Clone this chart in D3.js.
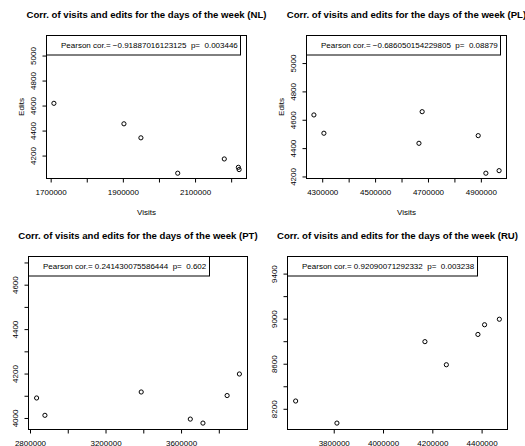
<!DOCTYPE html>
<html>
<head>
<meta charset="utf-8">
<script src="https://cdn.jsdelivr.net/npm/d3@7"></script>
<style>
  body { margin: 0; background: #fff; }
  svg { display: block; }
  text { font-family: "Liberation Sans", Arial, Helvetica, sans-serif; fill: #000; white-space: pre; }
</style>
</head>
<body>
<svg id="chart" width="525" height="446"></svg>
<script>
// Data (visits vs edits per weekday)
const countries = ["NL", "PL", "PT", "RU"];

const visitsNL = [1709000, 1903000, 1950000, 2052000, 2181000, 2220000, 2222000];
const editsNL  = [4618, 4454, 4342, 4059, 4173, 4106, 4088];
const visitsPL = [4268600, 4306400, 4665900, 4678000, 4890000, 4919000, 4969000];
const editsPL  = [4634, 4505, 4434, 4657, 4488, 4223, 4241];
const visitsPT = [2835000, 2879000, 3389000, 3649000, 3716000, 3844000, 3909000];
const editsPT  = [4090, 4012, 4117, 3995, 3977, 4101, 4198];
const visitsRU = [3645500, 3813000, 4170000, 4257000, 4385000, 4412000, 4472000];
const editsRU  = [8269, 8073, 8796, 8591, 8860, 8946, 8995];

const corrText = [
  "Pearson cor.= \u22120.91887016123125  p=  0.003446",
  "Pearson cor.= \u22120.686050154229805  p=  0.08879",
  "Pearson cor.= 0.241430075586444  p=  0.602",
  "Pearson cor.= 0.92090071292332  p=  0.003238"
];

// axis ticks and the labels R kept (empty = tick without label)
const xTicksNL = [1700000, 1800000, 1900000, 2000000, 2100000, 2200000];
const xLabelsNL = ["1700000", "", "1900000", "", "2100000", ""];
const yTicksNL = [4200, 4400, 4600, 4800, 5000];
const yLabelsNL = ["4200", "4400", "4600", "4800", "5000"];

const xTicksPL = [4300000, 4400000, 4500000, 4600000, 4700000, 4800000, 4900000];
const xLabelsPL = ["4300000", "", "4500000", "", "4700000", "", "4900000"];
const yTicksPL = [4200, 4400, 4600, 4800, 5000];
const yLabelsPL = ["4200", "4400", "4600", "4800", "5000"];

const xTicksPT = [2800000, 3000000, 3200000, 3400000, 3600000, 3800000];
const xLabelsPT = ["2800000", "", "3200000", "", "3600000", ""];
const yTicksPT = [4000, 4100, 4200, 4300, 4400, 4500, 4600, 4700];
const yLabelsPT = ["4000", "", "4200", "", "4400", "", "4600", ""];

const xTicksRU = [3800000, 4000000, 4200000, 4400000];
const xLabelsRU = ["3800000", "4000000", "4200000", "4400000"];
const yTicksRU = [8200, 8400, 8600, 8800, 9000, 9200, 9400];
const yLabelsRU = ["8200", "", "8600", "", "9000", "", "9400"];

const panels = [
  { name: "NL", visits: visitsNL, edits: editsNL, xt: xTicksNL, xl: xLabelsNL, yt: yTicksNL, yl: yLabelsNL,
    box: { l: 46.5, r: 246.5, t: 35.5, b: 178.5 }, axisTitles: true },
  { name: "PL", visits: visitsPL, edits: editsPL, xt: xTicksPL, xl: xLabelsPL, yt: yTicksPL, yl: yLabelsPL,
    box: { l: 306.5, r: 506.5, t: 35.5, b: 178.5 }, axisTitles: true },
  { name: "PT", visits: visitsPT, edits: editsPT, xt: xTicksPT, xl: xLabelsPT, yt: yTicksPT, yl: yLabelsPT,
    box: { l: 28.5, r: 247.5, t: 256.5, b: 429.5 }, axisTitles: false },
  { name: "RU", visits: visitsRU, edits: editsRU, xt: xTicksRU, xl: xLabelsRU, yt: yTicksRU, yl: yLabelsRU,
    box: { l: 287.5, r: 507.5, t: 256.5, b: 429.5 }, axisTitles: false }
];

const svg = d3.select("#chart");

panels.forEach((p, k) => {
  const b = p.box;

  // R style: xlim = range, ylim = c(min, max + 500), both padded by 4%
  const [x0, x1] = d3.extent(p.visits);
  const y0 = d3.min(p.edits), y1 = d3.max(p.edits) + 500;
  const xPad = (x1 - x0) * 0.04, yPad = (y1 - y0) * 0.04;

  const x = d3.scaleLinear().domain([x0 - xPad, x1 + xPad]).range([b.l, b.r]);
  const y = d3.scaleLinear().domain([y0 - yPad, y1 + yPad]).range([b.b, b.t]);

  const g = svg.append("g");

  // title
  g.append("text")
    .attr("x", (b.l + b.r) / 2)
    .attr("y", b.t - 17.5)
    .attr("text-anchor", "middle")
    .style("font-size", "9.6px")
    .style("font-weight", "bold")
    .text(`Corr. of visits and edits for the days of the week (${p.name})`);

  // x axis
  const xAxis = g.append("g")
    .attr("transform", `translate(0,${b.b})`)
    .call(d3.axisBottom(x).tickValues(p.xt).tickSize(4).tickPadding(7)
      .tickFormat((d, i) => p.xl[i]));
  xAxis.select(".domain").remove();
  xAxis.selectAll("line").attr("stroke", "#000");
  xAxis.selectAll("text").style("font-size", "8px").attr("font-family", null);

  // y axis, labels parallel to the axis
  const yAxis = g.append("g")
    .attr("transform", `translate(${b.l},0)`)
    .call(d3.axisLeft(y).tickValues(p.yt).tickSize(4)
      .tickFormat((d, i) => p.yl[i]));
  yAxis.select(".domain").remove();
  yAxis.selectAll("line").attr("stroke", "#000");
  yAxis.selectAll("text")
    .attr("x", null)
    .attr("dy", "0.35em")
    .attr("text-anchor", "middle")
    .attr("transform", "translate(-13,0) rotate(-90)")
    .attr("font-family", null)
    .style("font-size", "8px");

  if (p.axisTitles) {
    g.append("text")
      .attr("x", (b.l + b.r) / 2)
      .attr("y", b.b + 36)
      .attr("text-anchor", "middle")
      .style("font-size", "8px")
      .text("Visits");
    g.append("text")
      .attr("transform", `translate(${b.l - 25},${(b.t + b.b) / 2}) rotate(-90)`)
      .attr("dy", "0.35em")
      .attr("text-anchor", "middle")
      .style("font-size", "8px")
      .text("Edits");
  }

  // points
  g.append("g").selectAll("circle")
    .data(p.visits.map((v, i) => [v, p.edits[i]]))
    .enter()
    .append("circle")
    .attr("cx", d => x(d[0]))
    .attr("cy", d => y(d[1]))
    .attr("r", 2.1)
    .attr("fill", "none")
    .attr("stroke", "#000")
    .attr("stroke-width", 1);

  // plot box
  g.append("rect")
    .attr("x", b.l).attr("y", b.t)
    .attr("width", b.r - b.l).attr("height", b.b - b.t)
    .attr("fill", "none")
    .attr("stroke", "#000")
    .attr("stroke-width", 1);

  // legend (topleft)
  const lg = g.append("g");
  const lt = lg.append("text")
    .attr("x", b.l + 14.5)
    .attr("y", b.t + 10)
    .attr("dy", "0.35em")
    .style("font-size", "8px")
    .text(corrText[k]);
  const tw = lt.node().getComputedTextLength();
  lg.insert("rect", "text")
    .attr("x", b.l).attr("y", b.t)
    .attr("width", Math.round(tw + 17.5))
    .attr("height", 19.5)
    .attr("fill", "#fff")
    .attr("stroke", "#000")
    .attr("stroke-width", 1);
});
</script>
</body>
</html>
